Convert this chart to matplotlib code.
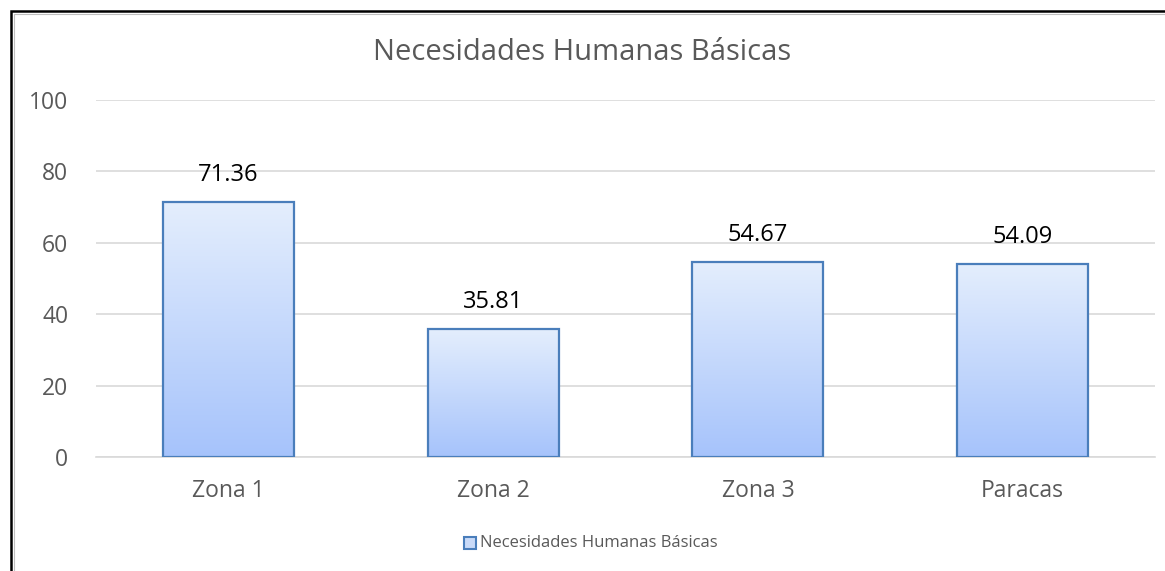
import matplotlib
matplotlib.use("Agg")
import matplotlib.pyplot as plt
import numpy as np
from matplotlib.patches import Rectangle
from matplotlib.colors import LinearSegmentedColormap

categories = ["Zona 1", "Zona 2", "Zona 3", "Paracas"]
values = [71.36, 35.81, 54.67, 54.09]
yticks = [0, 20, 40, 60, 80, 100]
title = "Necesidades Humanas Básicas"
series_name = "Necesidades Humanas Básicas"

W, H = 1165, 571
fig = plt.figure(figsize=(W / 100, H / 100), dpi=100)
plt.rcParams['font.family'] = ['Open Sans', 'DejaVu Sans']

# outer border
fig.patches.append(Rectangle((11 / W, -0.1), 1.2, (H - 11) / H + 0.1, transform=fig.transFigure,
                             fill=False, edgecolor='black', linewidth=1.8))
fig.patches.append(Rectangle((14 / W, -0.1), 1.2, (H - 14) / H + 0.1, transform=fig.transFigure,
                             fill=False, edgecolor='#BFBFBF', linewidth=0.8))

ax = fig.add_axes([96 / W, (H - 457) / H, (1155 - 96) / W, (457 - 100) / H])
ax.set_xlim(-0.5, len(categories) - 0.5)
ax.set_ylim(0, 100)

grad = np.linspace(0, 1, 256).reshape(-1, 1)
cmap = LinearSegmentedColormap.from_list("g", ["#A6C3FB", "#E4EEFD"])
bw = 0.495
for i, v in enumerate(values):
    ax.imshow(grad, cmap=cmap, aspect='auto', origin='lower',
              extent=(i - bw / 2, i + bw / 2, 0, v), zorder=3)
    ax.add_patch(Rectangle((i - bw / 2, 0), bw, v, fill=False, edgecolor='#4A7EBB',
                           linewidth=1.6, zorder=4))
    ax.annotate(f"{v:.2f}", (i, v), xytext=(0, 19.5), textcoords='offset points',
                ha='center', va='center', fontsize=17, color='black', zorder=5)

ax.set_xlim(-0.5, len(categories) - 0.5)
ax.set_ylim(0, 100)
ax.set_yticks(yticks)
ax.set_xticks(range(len(categories)))
ax.set_xticklabels(categories)
ax.yaxis.grid(True, color='#D9D9D9', linewidth=1.2, zorder=0)
ax.set_axisbelow(True)
for s in ['top', 'right', 'left']:
    ax.spines[s].set_visible(False)
ax.spines['bottom'].set_color('#D9D9D9')
ax.spines['bottom'].set_linewidth(1.2)
ax.tick_params(axis='both', length=0, labelsize=16.5, colors='#595959')
ax.tick_params(axis='y', pad=20)
ax.tick_params(axis='x', pad=16)

fig.text(0.5, (H - 52) / H, title, ha='center', va='center', fontsize=21, color='#595959')

# legend
lx = 464 / W
ly = (H - 543) / H
fig.patches.append(Rectangle((lx, ly - 6 / H), 12 / W, 12 / H, transform=fig.transFigure,
                             facecolor='#C9DAF8', edgecolor='#4A7EBB', linewidth=1.5))
fig.text(480 / W, ly, series_name, ha='left', va='center', fontsize=12, color='#595959')

fig.savefig("out.png", dpi=100)
